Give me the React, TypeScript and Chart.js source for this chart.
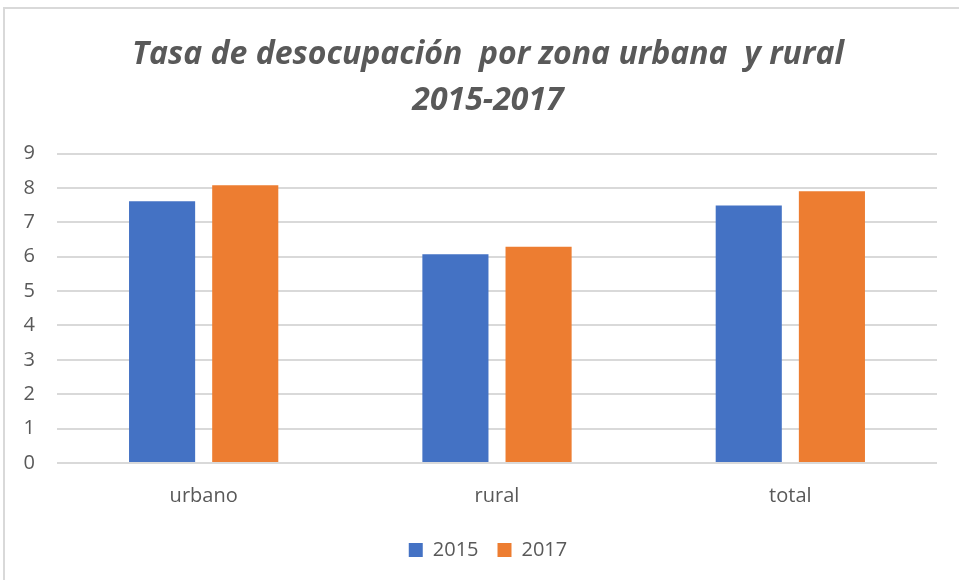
import React, { useEffect, useRef } from "react";
import { Chart, registerables } from "chart.js";

Chart.register(...registerables);

const categories = ["urbano", "rural", "total"];
const series2015 = [7.61, 6.07, 7.49];
const series2017 = [8.08, 6.29, 7.9];
const seriesLabels = ["2015", "2017"];
const titleLines = ["Tasa de desocupación  por zona urbana  y rural", "2015-2017"];

export default function App() {
  const ref = useRef<HTMLCanvasElement | null>(null);
  useEffect(() => {
    document.body.style.margin = "0";
    const ctx = ref.current!.getContext("2d")!;
    const chart = new Chart(ctx, {
      type: "bar",
      data: {
        labels: categories,
        datasets: [
          { label: seriesLabels[0], data: series2015, backgroundColor: "#4472C4", categoryPercentage: 0.567, barPercentage: 0.795 },
          { label: seriesLabels[1], data: series2017, backgroundColor: "#ED7D31", categoryPercentage: 0.567, barPercentage: 0.795 },
        ],
      },
      options: {
        responsive: false,
        animation: false,
        layout: { padding: { left: 0, right: 4, top: 18, bottom: 10 } },
        plugins: {
          title: {
            display: true,
            text: titleLines,
            color: "#595959",
            font: { family: "Open Sans", size: 32, style: "italic", weight: "bold", lineHeight: 1.43 },
            padding: { top: 14, bottom: 30 },
          },
          legend: {
            position: "bottom",
            labels: {
              color: "#595959",
              font: { family: "Open Sans", size: 20 },
              boxWidth: 14,
              boxHeight: 14,
              padding: 19,
            },
          },
          tooltip: { enabled: false },
        },
        scales: {
          x: {
            grid: { display: false },
            border: { display: false },
            ticks: { color: "#595959", font: { family: "Open Sans", size: 20 }, padding: 13 },
          },
          y: {
            min: 0,
            max: 9,
            ticks: { stepSize: 1, color: "#595959", font: { family: "Open Sans", size: 20 }, padding: 22 },
            grid: { color: "#d9d9d9", lineWidth: 2, drawTicks: false },
            border: { display: false },
            afterFit: (s: any) => { s.width = 57; },
          },
          yR: {
            type: "linear",
            position: "right",
            display: true,
            grid: { display: false },
            border: { display: false },
            ticks: { display: false },
            afterFit: (s: any) => { s.width = 39; },
          },
        },
      },
    });
    return () => chart.destroy();
  }, []);
  return (
    <div style={{ position: "fixed", left: 0, top: 0, width: 959, height: 580, background: "#fff", overflow: "hidden" }}>
      <div style={{ position: "absolute", left: 3, top: 7, width: 1000, height: 1000, borderTop: "2px solid #d9d9d9", borderLeft: "2px solid #d9d9d9" }} />
      <canvas ref={ref} width={980} height={580} style={{ position: "absolute", left: 0, top: 0 }} />
    </div>
  );
}
